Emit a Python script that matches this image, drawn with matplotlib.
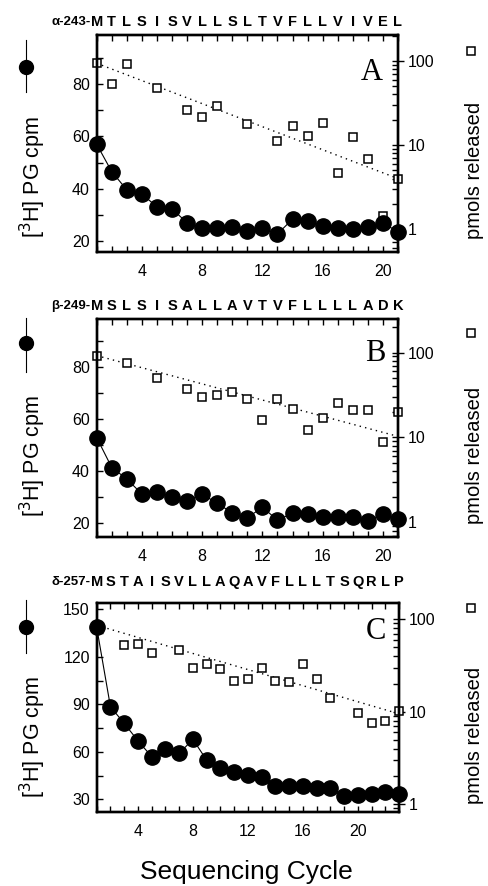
import matplotlib
matplotlib.use("Agg")
import matplotlib.pyplot as plt
from matplotlib.lines import Line2D
from matplotlib.ticker import MultipleLocator, FixedLocator, LogLocator, NullFormatter
import numpy as np

plt.rcParams['font.family'] = ['Liberation Sans', 'DejaVu Sans']

# ---------------- data ----------------
cycles_A = list(range(1, 22))
cpm_A = [57, 46.5, 39.5, 37.8, 33.1, 32.2, 26.9, 25.0, 24.8, 25.1, 23.7, 25.0, 22.6,
         28.3, 27.7, 25.8, 24.9, 24.5, 25.4, 26.7, 23.5]
pmol_cyc_A = [1, 2, 3, 5, 7, 8, 9, 11, 13, 14, 15, 16, 17, 18, 19, 20, 21]
pmol_A = [95, 54, 91, 48, 26, 21.7, 29, 17.6, 11.3, 16.8, 12.8, 18.5, 4.7, 12.6, 6.8, 1.44, 4.0]
fit_cyc_A = [1, 21]
fit_A = [94, 4.0]
seq_A = "MTLSISVLLSLTVFLLVIVEL"
prefix_A = "α-243-"

cycles_B = list(range(1, 22))
cpm_B = [52.7, 41.2, 36.8, 31.0, 31.9, 30.0, 28.5, 31.0, 27.4, 23.8, 21.9, 25.9, 21.0,
         23.6, 23.2, 22.3, 22.3, 22.1, 20.8, 23.3, 21.3]
pmol_cyc_B = [1, 3, 5, 7, 8, 9, 10, 11, 12, 13, 14, 15, 16, 17, 18, 19, 20, 21]
pmol_B = [92, 75, 50, 37, 30, 32, 34, 28.5, 16, 28.5, 21.7, 12.1, 16.9, 25.8, 20.8, 20.8, 8.8, 19.9]
fit_cyc_B = [1, 21]
fit_B = [92, 10.3]
seq_B = "MSLSISALLAVTVFLLLLADK"
prefix_B = "β-249-"

cycles_C = list(range(1, 24))
cpm_C = [138.6, 88.5, 78, 67, 57, 61.8, 59, 67.9, 54.8, 49.5, 47.5, 45.4, 43.9, 38.6,
         38.6, 38.6, 37.4, 37, 32.3, 32.7, 33.4, 34.8, 33.4]
pmol_cyc_C = [1, 3, 4, 5, 7, 8, 9, 10, 11, 12, 13, 14, 15, 16, 17, 18, 20, 21, 22, 23]
pmol_C = [85.5, 53, 54, 43, 46.5, 30, 33, 28.8, 21.7, 22.6, 29.5, 21.5, 20.8, 32.7, 22.6,
          14, 9.8, 7.5, 8.0, 10.2]
fit_cyc_C = [1, 23]
fit_C = [86, 9.5]
seq_C = "MSTAISVLLAQAVFLLLTSQRLP"
prefix_C = "δ-257-"

xlabel = "Sequencing Cycle"
ylabel_left = "[$^{3}$H] PG cpm"
ylabel_right = "pmols released"

# ---------------- layout ----------------
W, H = 488, 886
fig = plt.figure(figsize=(W / 100, H / 100), dpi=100)


def fx(px):
    return px / W


def fy(py):
    return 1 - py / H


panels = [
    dict(cyc=cycles_A, cpm=cpm_A, pc=pmol_cyc_A, pm=pmol_A, fc=fit_cyc_A, fv=fit_A,
         seq=seq_A, pre=prefix_A, letter="A", top=35, bot=251.7, right=398,
         xlim=(1, 21), ylim=(15.8, 98.9), yt=[20, 40, 60, 80], ymin=10,
         rlim=(0.54, 204), lpos=(0.914, 0.825), seqy=22,
         sym=(26, 40, 92, 67), lab=(33, 177), rlab=(51, 170)),
    dict(cyc=cycles_B, cpm=cpm_B, pc=pmol_cyc_B, pm=pmol_B, fc=fit_cyc_B, fv=fit_B,
         seq=seq_B, pre=prefix_B, letter="B", top=319.3, bot=536.7, right=398,
         xlim=(1, 21), ylim=(14.6, 98.2), yt=[20, 40, 60, 80], ymin=10,
         rlim=(0.68, 246), lpos=(0.924, 0.844), seqy=306,
         sym=(26, 318, 372, 343), lab=(33, 456), rlab=(333, 455)),
    dict(cyc=cycles_C, cpm=cpm_C, pc=pmol_cyc_C, pm=pmol_C, fc=fit_cyc_C, fv=fit_C,
         seq=seq_C, pre=prefix_C, letter="C", top=602.7, bot=811.7, right=399,
         xlim=(1, 23), ylim=(22.2, 154.2), yt=[30, 60, 90, 120, 150], ymin=15,
         rlim=(0.83, 151), lpos=(0.924, 0.861), seqy=581.7,
         sym=(26, 600, 653, 627), lab=(33, 737), rlab=(608, 735)),
]

left_px = 96.7
for p in panels:
    ax = fig.add_axes([fx(left_px), fy(p['bot']), fx(p['right'] - left_px),
                       (p['bot'] - p['top']) / H])
    ax.plot(p['cyc'], p['cpm'], color='black', lw=0.8, marker='o', ms=11,
            mfc='black', mec='black', zorder=3, clip_on=False)
    ax.set_xlim(*p['xlim'])
    ax.set_ylim(*p['ylim'])
    ax.yaxis.set_major_locator(FixedLocator(p['yt']))
    ax.yaxis.set_minor_locator(MultipleLocator(p['ymin']))
    ax.xaxis.set_major_locator(FixedLocator([4, 8, 12, 16, 20]))
    ax.xaxis.set_minor_locator(MultipleLocator(1))
    ax.tick_params(axis='x', which='both', direction='in', top=True, bottom=True,
                   length=4, width=1, labelsize=11.5, pad=9)
    ax.tick_params(axis='y', which='both', direction='in', left=True, right=False,
                   length=4, width=1, labelsize=11.5, pad=5)
    for s in ax.spines.values():
        s.set_linewidth(1.7)

    ax2 = ax.twinx()
    ax2.set_yscale('log')
    ax2.set_ylim(*p['rlim'])
    ax2.plot(p['fc'], p['fv'], color='black', lw=1.0, ls=(0, (1, 3)), zorder=1)
    ax2.plot(p['pc'], p['pm'], ls='none', marker='s', ms=5.5, mfc='white',
             mec='black', mew=1.1, zorder=2, clip_on=False)
    ax2.yaxis.set_major_locator(FixedLocator([1, 10, 100]))
    ax2.yaxis.set_major_formatter(plt.FuncFormatter(lambda v, _: f"{v:g}"))
    ax2.yaxis.set_minor_locator(LogLocator(base=10, subs=np.arange(2, 10)))
    ax2.yaxis.set_minor_formatter(NullFormatter())
    ax2.tick_params(axis='y', which='major', direction='inout', length=8, width=1,
                    labelsize=11.5, pad=3)
    ax2.tick_params(axis='y', which='minor', direction='in', length=4, width=1)
    for s in ax2.spines.values():
        s.set_linewidth(1.7)
    ax.set_zorder(ax2.get_zorder() + 1)
    ax.patch.set_visible(False)

    # sequence letters aligned with cycles
    ytxt = p['seqy']
    ntx = p['xlim'][1] - p['xlim'][0]
    for i, ch in enumerate(p['seq']):
        xpix = left_px + i * (p['right'] - left_px) / ntx
        fig.text(fx(xpix), fy(ytxt), ch, ha='center', va='center', fontsize=10.5,
                 fontweight='bold')
    fig.text(fx(left_px - 6), fy(ytxt), p['pre'], ha='right', va='center',
             fontsize=9.5, fontweight='bold')

    # panel letter
    ax.text(p['lpos'][0], p['lpos'][1], p['letter'], transform=ax.transAxes,
            ha='center', va='center', fontsize=22,
            family=['Liberation Serif', 'DejaVu Serif'])

    # left label with legend symbol
    sx, sy0, sy1, scy = p['sym']
    fig.add_artist(Line2D([fx(sx), fx(sx)], [fy(sy0), fy(sy1)], color='black', lw=0.8))
    fig.add_artist(Line2D([fx(sx)], [fy(scy)], marker='o', ms=10, color='black',
                          ls='none'))
    fig.text(fx(p['lab'][0]), fy(p['lab'][1]), ylabel_left, rotation=90, ha='center',
             va='center', fontsize=15.5)

    # right label with legend symbol
    fig.add_artist(Line2D([fx(471)], [fy(p['rlab'][0])], marker='s', ms=5.5,
                          mfc='white', mec='black', mew=1.1, ls='none'))
    fig.text(fx(475), fy(p['rlab'][1]), ylabel_right, rotation=90, ha='center',
             va='center', fontsize=14.5)

fig.text(fx(246), fy(872), xlabel, ha='center', va='center', fontsize=19)

fig.savefig("out.png", dpi=100)
